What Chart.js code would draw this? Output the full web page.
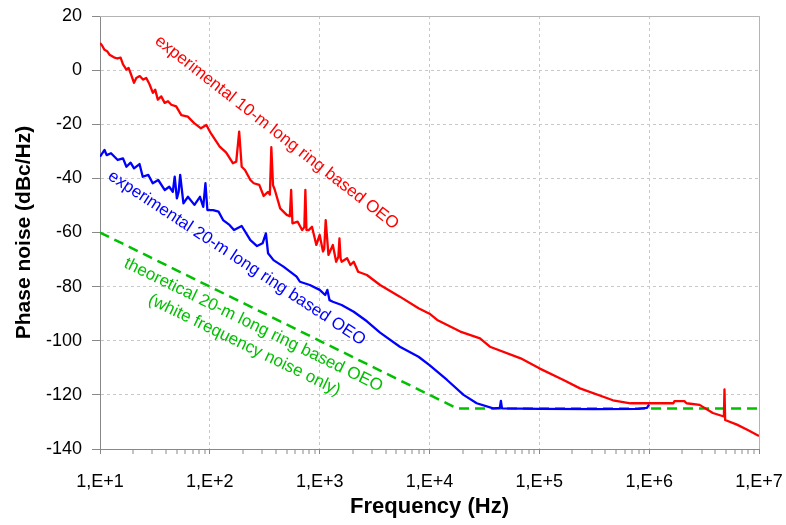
<!DOCTYPE html>
<html>
<head>
<meta charset="utf-8">
<script src="https://cdn.jsdelivr.net/npm/chart.js@4"></script>
<style>
  html, body { margin: 0; padding: 0; background: #fff; }
  #wrap { width: 786px; height: 525px; }
</style>
</head>
<body>
<div id="wrap"><canvas id="noiseChart" width="786" height="525"></canvas></div>
<script>
// frequency (Hz) / phase noise (dBc/Hz)
var redFreq = [10, 10.4, 11, 11.6, 12.2, 12.8, 13.6, 14.4, 15.4, 16.2, 17.4, 18.2, 19.3, 20.4, 21.4, 23, 24.6, 26.4, 28.3,
  30.3, 31.8, 33.6, 36.1, 38.8, 41.6, 44.6, 49.4, 55, 63, 72, 83, 93,
  102, 123, 141, 162, 174, 185, 195, 209, 234, 251, 282, 309, 339, 352, 363, 376, 389, 437, 501, 535, 550, 565, 631, 692, 725,
  741, 758, 794, 851, 933, 1000, 1072, 1100, 1135, 1202, 1318, 1413, 1480, 1514, 1550, 1585, 1778, 1905, 2042, 2239, 2692,
  3548, 5370, 7943, 10000, 11749, 19055, 28840, 35481, 67608, 100000, 165959, 234423, 467735, 676083, 1659587, 1700000,
  2090000, 2190000, 2880000, 3800000, 4790000, 4850000, 4920000, 6300000, 7900000, 10000000];
var redNoise = [10, 9.2, 7.5, 7.0, 5.7, 5.2, 4.6, 4.3, 4.6, 2.1, 0.2, 0.8, -1.9, -4.7, -2.9, -2.2, -3.5, -2.9, -5.3,
  -8.4, -7.2, -10.9, -9.7, -12.1, -11.5, -12.8, -13.4, -16.6, -17.2, -19.6, -21.5, -20.3,
  -23.3, -28.3, -30.5, -34.4, -33.8, -22.7, -35.7, -36.9, -40.6, -41.8, -42.4, -46.5, -45, -46, -28.5,
  -42.5, -44, -51.1, -53.5, -54, -44.3, -56.6, -56, -59.1, -58, -44.3, -59.1, -59.1, -57.9, -64.6, -60.9, -67, -66, -55.4,
  -68.3, -64.6, -70.8, -69, -62.2, -69.5, -70.8, -69.5, -72, -70.8, -74.5, -75.7, -79.4, -83.7, -88, -90, -92.3, -96.6,
  -99.1, -102.2, -106.5, -110.2, -114.5, -117.6, -122, -123.1, -123.1, -122.3, -122.3, -123.1, -123.7, -126.7, -128, -118,
  -129.3, -131, -133, -135.2];

var blueFreq = [10, 11, 11.5, 12.6, 14.5, 16.2, 17.4, 19, 20.4, 22.9, 24.5, 27.5, 30.2, 33.9, 38.9, 42.7, 46, 47.9, 50.1, 52,
  53.7, 57.5, 63.1, 72.4, 81.3, 87.1, 91.2, 95, 107, 120, 132, 151, 166, 195, 234, 269, 302, 324, 339, 380, 468, 617, 661,
  813, 1000, 1122, 1175, 1230, 1318, 1585, 2042, 2692, 3548, 5370, 7943, 10000, 14454, 20417, 26915, 38019, 43652, 44668,
  45709, 100000, 316000, 794000, 955000, 1000000];
var blueNoise = [-32, -29.5, -31.4, -30.7, -33.2, -32.6, -35.7, -34.2, -36.3, -34.7, -39.4, -38.7, -41.8, -40.6, -44.3, -43.1,
  -45, -39.4, -47.4, -45, -38.7, -49.2, -46.8, -49.8, -46.8, -50.5, -41.8, -51.7, -51.7, -52.3, -55.4, -57.2, -59.1, -57.6,
  -62.8, -65, -64, -60.3, -67.7, -70.2, -72.6, -76.3, -78.2, -79.4, -81.2, -83.1, -81.2, -85, -85.6, -86.8, -89.3, -92.8,
  -97, -102.2, -105.9, -109, -114.5, -120, -123.1, -125, -124.8, -122.2, -125, -125.2, -125.3, -125.2, -124.8, -123.5];

var greenFreq = [10, 17783, 10000000];
var greenNoise = [-60, -125, -125];

var xDecades = [10, 100, 1000, 10000, 100000, 1000000, 10000000];
var xTickLabels = ["1,E+1", "1,E+2", "1,E+3", "1,E+4", "1,E+5", "1,E+6", "1,E+7"];
var yTicks = [20, 0, -20, -40, -60, -80, -100, -120, -140];

// rotated curve captions, anchored in data space (center of the text)
var captions = [
  { text: "experimental 10-m long ring based OEO", f: 406, v: -23.1, angle: 38, color: "#ff0000" },
  { text: "experimental 20-m long ring based OEO", f: 176, v: -69.5, angle: 33.3, color: "#0000ff" },
  { text: "theoretical 20-m long ring based OEO", f: 249, v: -94.2, angle: 26, color: "#00c000" },
  { text: "(white frequency noise only)", f: 206, v: -101.6, angle: 26, color: "#00c000" },
];

function toPoints(freq, vals) {
  return freq.map(function (f, i) {
    return { x: f, y: vals[i] };
  });
}

function isDecade(v) {
  var l = Math.log10(v);
  return Math.abs(l - Math.round(l)) < 1e-9;
}

var FONT = "'Liberation Sans', Arial, sans-serif";

var plotExtras = {
  id: "plotExtras",
  beforeDatasetsDraw: function (chart) {
    var ctx = chart.ctx;
    var a = chart.chartArea;
    ctx.save();
    ctx.strokeStyle = "#b4b4b4";
    ctx.lineWidth = 1;
    ctx.beginPath();
    ctx.moveTo(a.left, a.top + 0.5);
    ctx.lineTo(a.right + 0.5, a.top + 0.5);
    ctx.lineTo(a.right + 0.5, a.bottom);
    ctx.stroke();
    ctx.restore();
  },
  afterDatasetsDraw: function (chart) {
    var ctx = chart.ctx;
    var xs = chart.scales.x;
    var ys = chart.scales.y;
    ctx.save();
    ctx.font = "17px " + FONT;
    ctx.textAlign = "center";
    ctx.textBaseline = "middle";
    captions.forEach(function (c) {
      ctx.save();
      ctx.translate(xs.getPixelForValue(c.f), ys.getPixelForValue(c.v));
      ctx.rotate((c.angle * Math.PI) / 180);
      ctx.fillStyle = c.color;
      ctx.fillText(c.text, 0, 0);
      ctx.restore();
    });
    ctx.restore();
  },
};

var chart = new Chart(document.getElementById("noiseChart"), {
  type: "line",
  data: {
    datasets: [
      {
        data: toPoints(redFreq, redNoise),
        borderColor: "#ff0000",
        borderWidth: 2.3,
        order: 1,
      },
      {
        data: toPoints(blueFreq, blueNoise),
        borderColor: "#0000ff",
        borderWidth: 2.3,
        order: 2,
      },
      {
        data: toPoints(greenFreq, greenNoise),
        borderColor: "#00c000",
        borderWidth: 2.5,
        borderDash: [10, 6],
        order: 3,
      },
    ],
  },
  options: {
    responsive: false,
    animation: false,
    devicePixelRatio: 1,
    layout: { padding: { top: 16, right: 27, left: 0, bottom: 0 } },
    elements: { point: { radius: 0 }, line: { tension: 0, borderJoinStyle: "round" } },
    plugins: { legend: { display: false }, tooltip: { enabled: false } },
    scales: {
      x: {
        type: "logarithmic",
        min: 10,
        max: 10000000,
        afterBuildTicks: function (axis) {
          var ticks = [];
          xDecades.forEach(function (d, i) {
            if (i === xDecades.length - 1) {
              ticks.push({ value: d });
              return;
            }
            [1, 2, 3, 4, 5, 6, 7, 8, 9].forEach(function (m) {
              ticks.push({ value: d * m });
            });
          });
          axis.ticks = ticks;
        },
        afterFit: function (axis) {
          axis.height = 76;
        },
        ticks: {
          autoSkip: false,
          maxRotation: 0,
          padding: 0,
          color: "#000",
          // tall line box pushes the labels down without widening side padding
          font: { family: FONT, size: 18, lineHeight: 3.17 },
          callback: function (value) {
            var i = xDecades.indexOf(value);
            return i >= 0 ? xTickLabels[i] : "";
          },
        },
        grid: {
          color: "#c8c8c8",
          lineWidth: function (ctx) {
            return ctx.tick && isDecade(ctx.tick.value) ? 1 : 0;
          },
          tickColor: "#888",
          tickWidth: 1,
          tickLength: 5,
        },
        border: { color: "#888", width: 1, dash: [3, 3] },
        title: {
          display: true,
          text: "Frequency (Hz)",
          color: "#000",
          font: { family: FONT, size: 22, weight: "bold" },
          padding: { top: 0, bottom: 5 },
        },
      },
      y: {
        min: -140,
        max: 20,
        afterBuildTicks: function (axis) {
          axis.ticks = yTicks.map(function (v) {
            return { value: v };
          });
        },
        afterFit: function (axis) {
          axis.width = 100;
        },
        ticks: {
          padding: 10,
          color: "#000",
          font: { family: FONT, size: 18, lineHeight: 0.6 },
        },
        grid: {
          color: "#c8c8c8",
          lineWidth: 1,
          tickColor: "#888",
          tickWidth: 1,
          tickLength: 8,
        },
        border: { color: "#888", width: 1, dash: [3, 3] },
        title: {
          display: true,
          text: "Phase noise (dBc/Hz)",
          color: "#000",
          font: { family: FONT, size: 21, weight: "bold" },
          padding: { top: 12, bottom: 0 },
        },
      },
    },
  },
  plugins: [plotExtras],
});
</script>
</body>
</html>
